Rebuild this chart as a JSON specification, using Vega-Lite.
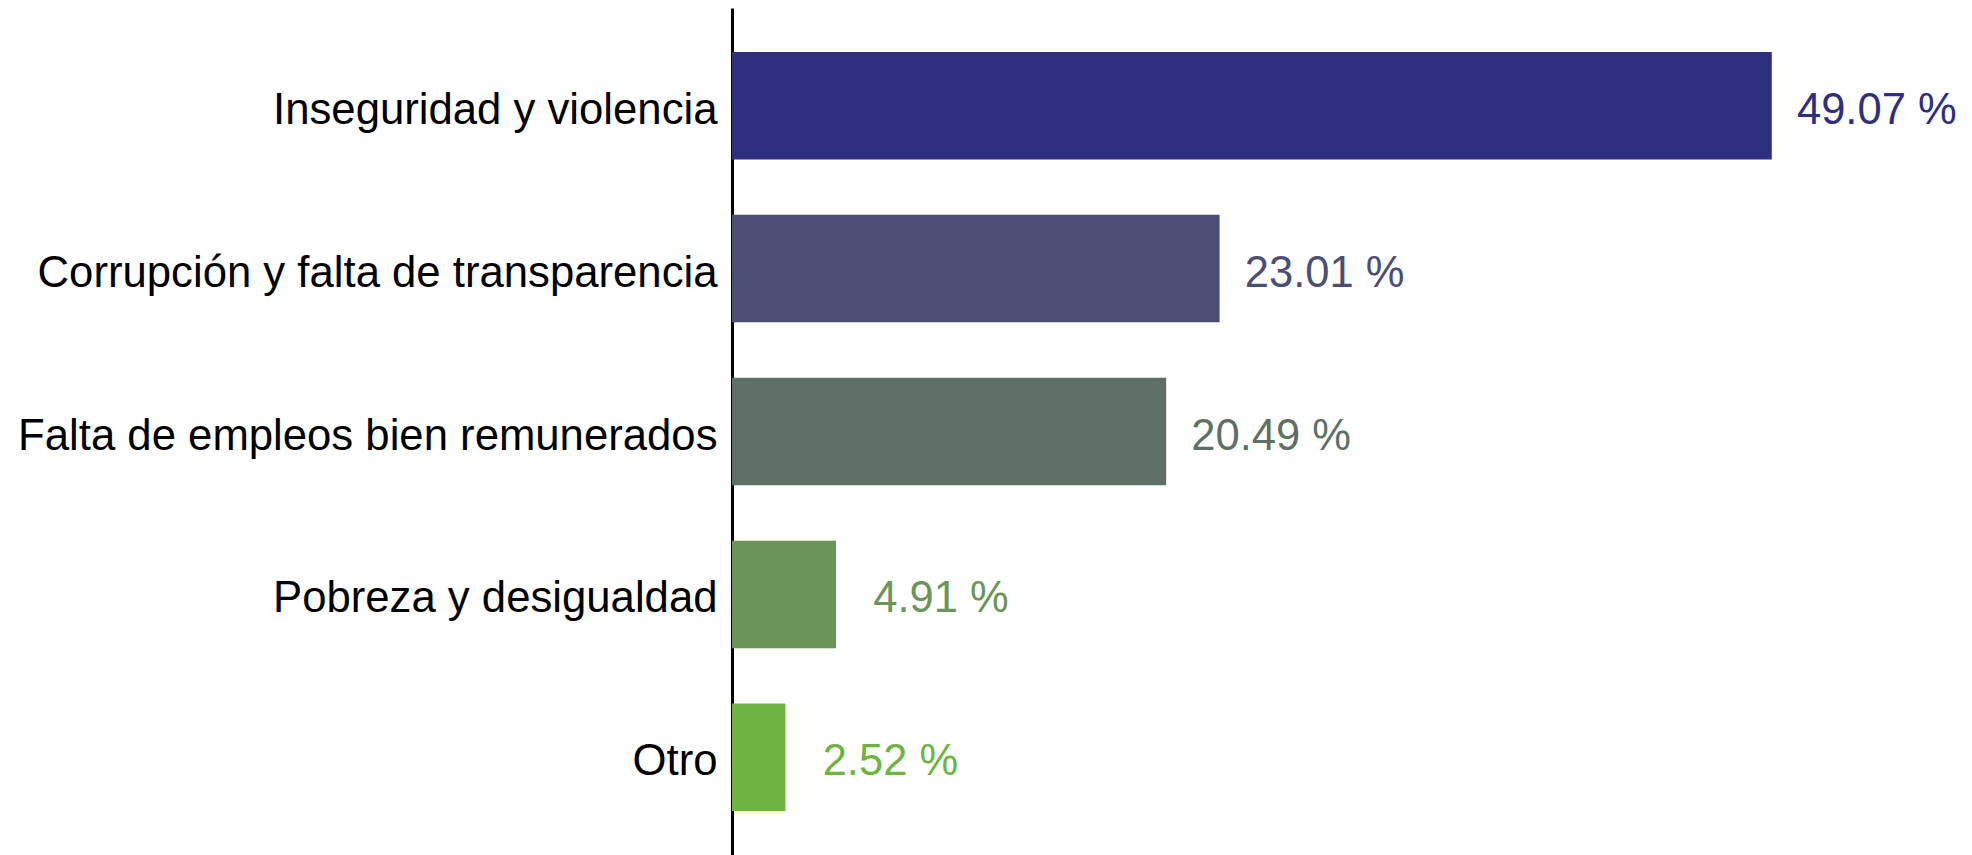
{
  "$schema": "https://vega.github.io/schema/vega-lite/v6.json",
  "width": 1229,
  "height": 847,
  "autosize": {"type": "none"},
  "padding": {"left": 732, "top": 8, "right": 11, "bottom": 0},
  "background": "white",
  "config": {"view": {"stroke": null}, "font": "Liberation Sans"},
  "data": {
    "values": [
      {"tema": "Inseguridad y violencia", "pct": 49.07, "label": "49.07 %"},
      {"tema": "Corrupción y falta de transparencia", "pct": 23.01, "label": "23.01 %"},
      {"tema": "Falta de empleos bien remunerados", "pct": 20.49, "label": "20.49 %"},
      {"tema": "Pobreza y desigualdad", "pct": 4.91, "label": "4.91 %"},
      {"tema": "Otro", "pct": 2.52, "label": "2.52 %"}
    ]
  },
  "encoding": {
    "y": {
      "field": "tema",
      "type": "nominal",
      "sort": null,
      "scale": {"paddingInner": 0.34, "paddingOuter": 0.27},
      "axis": {
        "title": null,
        "ticks": false,
        "grid": false,
        "domainColor": "black",
        "domainWidth": 3,
        "labelFont": "Liberation Sans",
        "labelFontSize": 43.7,
        "labelColor": "black",
        "labelPadding": 15,
        "labelOffset": 5,
        "labelLimit": 1000
      }
    },
    "x": {
      "field": "pct",
      "type": "quantitative",
      "scale": {"domain": [0, 58], "nice": false},
      "axis": null
    },
    "color": {
      "field": "tema",
      "type": "nominal",
      "sort": null,
      "scale": {
        "domain": ["Inseguridad y violencia", "Corrupción y falta de transparencia", "Falta de empleos bien remunerados", "Pobreza y desigualdad", "Otro"],
        "range": ["#2E2E7E", "#4B4D73", "#5E7066", "#6A9458", "#6DB440"]
      },
      "legend": null
    }
  },
  "layer": [
    {"mark": {"type": "bar"}},
    {
      "mark": {"type": "text", "align": "center", "baseline": "middle", "dx": 105, "dy": 5, "fontSize": 43.5, "font": "Liberation Sans"},
      "encoding": {"text": {"field": "label"}}
    }
  ]
}
